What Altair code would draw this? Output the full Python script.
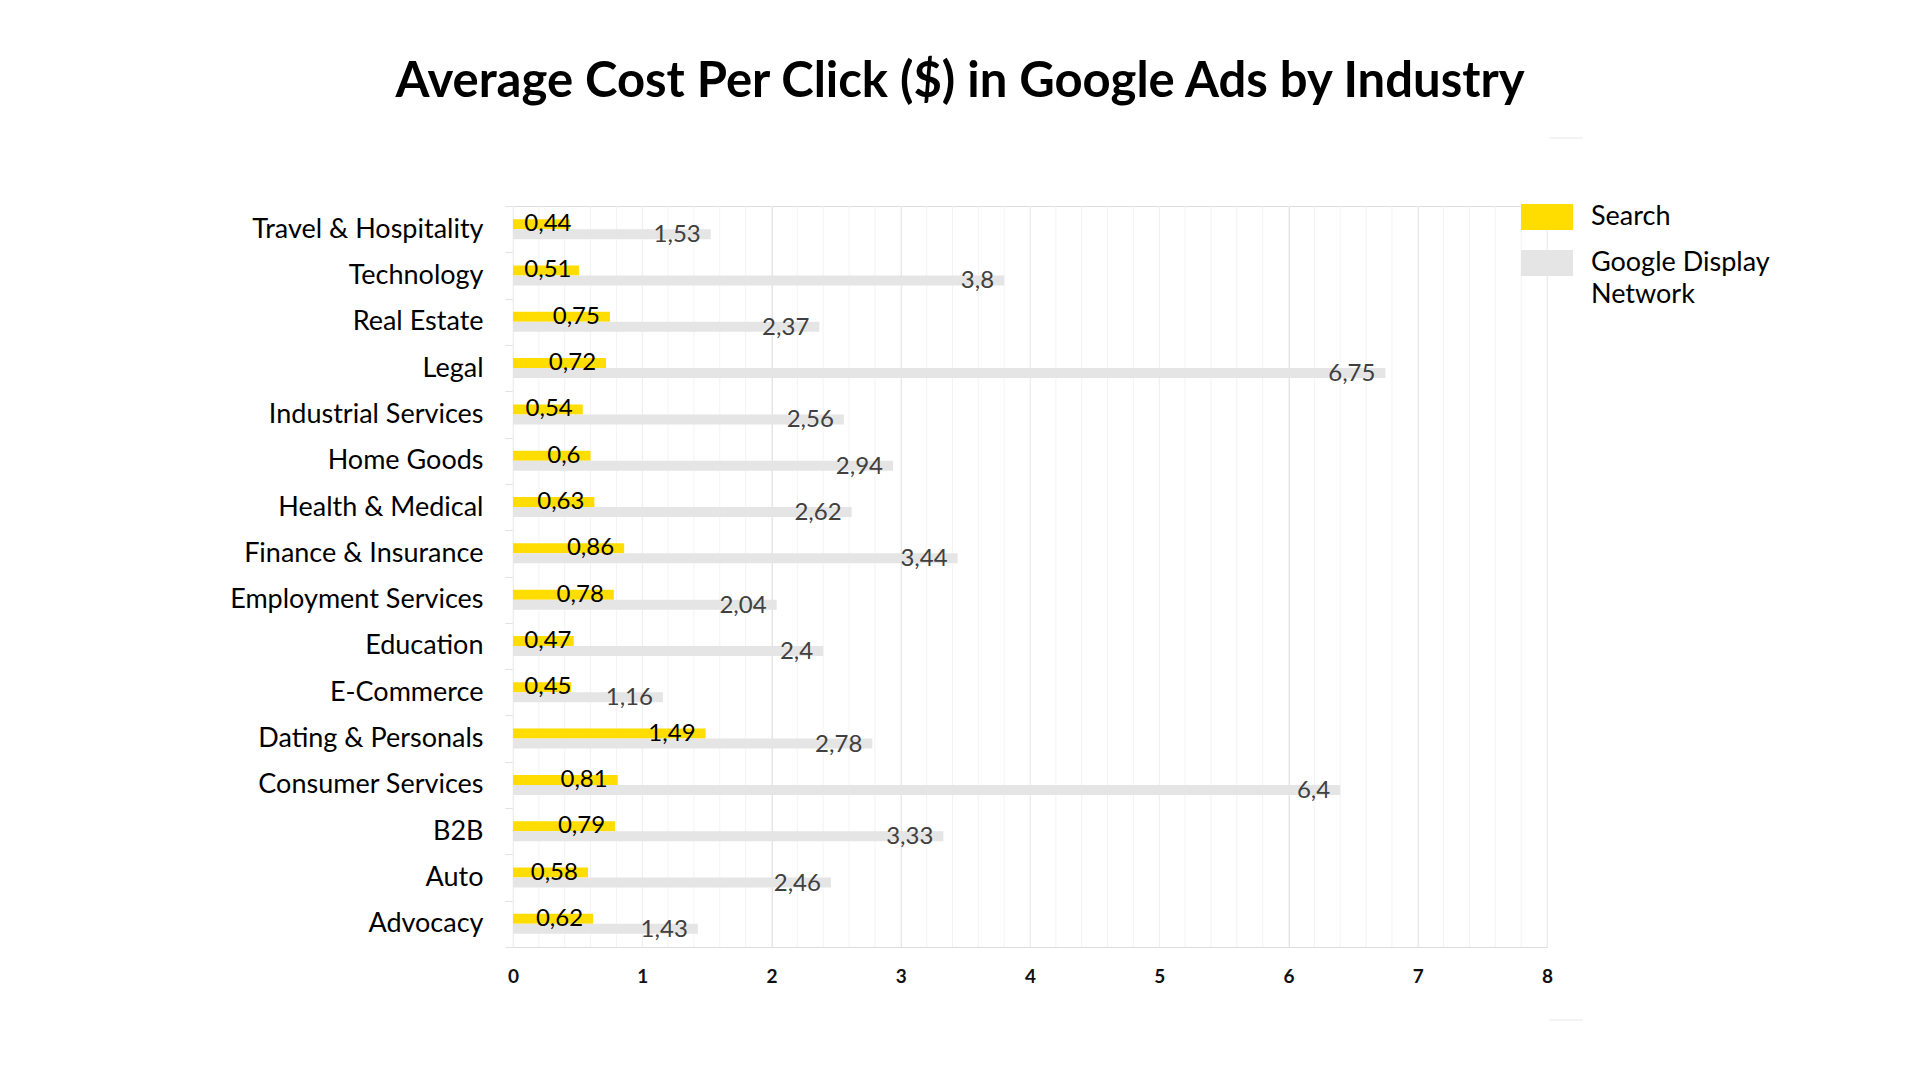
import altair as alt
import pandas as pd

industries = [
    "Travel & Hospitality", "Technology", "Real Estate", "Legal",
    "Industrial Services", "Home Goods", "Health & Medical",
    "Finance & Insurance", "Employment Services", "Education",
    "E-Commerce", "Dating & Personals", "Consumer Services", "B2B",
    "Auto", "Advocacy",
]
search_cpc = [0.44, 0.51, 0.75, 0.72, 0.54, 0.60, 0.63, 0.86, 0.78, 0.47,
              0.45, 1.49, 0.81, 0.79, 0.58, 0.62]
display_cpc = [1.53, 3.80, 2.37, 6.75, 2.56, 2.94, 2.62, 3.44, 2.04, 2.40,
               1.16, 2.78, 6.40, 3.33, 2.46, 1.43]
series_names = ["Search", "Google Display Network"]
series_colors = ["#FFDD00", "#E6E5E6"]
x_labels = [0, 1, 2, 3, 4, 5, 6, 7, 8]
minor_grid = [round(0.2 * i, 1) for i in range(41)]

rows = []
for ind, s, d in zip(industries, search_cpc, display_cpc):
    rows.append({"industry": ind, "series": series_names[0], "value": s})
    rows.append({"industry": ind, "series": series_names[1], "value": d})
df = pd.DataFrame(rows)

FONT = "Lato"
x_scale = alt.Scale(domain=[0, 8], nice=False, zero=True)

y_enc = alt.Y(
    "industry:N", sort=industries, title=None,
    scale=alt.Scale(paddingInner=0, paddingOuter=0),
    axis=alt.Axis(
        labelFont=FONT, labelFontSize=27, labelColor="#000000",
        labelPadding=22, tickSize=8, tickBand="extent", tickColor="#E2E2E2",
        domainColor="#E8E8E8", grid=False, labelLimit=400,
    ),
)
x_axis = alt.Axis(
    values=x_labels, format="d",
    labelFont=FONT, labelFontSize=19, labelFontWeight="bold",
    labelColor="#111111", labelPadding=20, ticks=False, domain=False,
    labelOverlap=False, labelFlush=False,
    grid=True, gridColor="#E4E4E4",
)
x_enc = alt.X("value:Q", title=None, scale=x_scale, axis=x_axis)
color_enc = alt.Color(
    "series:N",
    scale=alt.Scale(domain=series_names, range=series_colors),
    legend=alt.Legend(
        title=None, orient="none", legendX=1008, legendY=-15,
        symbolType="M-1,-0.5H1V0.5H-1Z", symbolSize=2704,
        symbolStrokeWidth=0, labelFont=FONT, labelFontSize=27,
        labelColor="#000000", labelOffset=18, rowPadding=7, padding=0,
        labelLimit=400, labelBaseline="middle",
        labelExpr="datum.label == 'Google Display Network' ? ['Google Display', 'Network'] : datum.label",
    ),
)

base = alt.Chart(df)
y_plain = alt.Y("industry:N", sort=industries)

minor_rules = alt.Chart(pd.DataFrame({"g": minor_grid})).mark_rule(
    color="#F3F3F3", strokeWidth=1
).encode(x=alt.X("g:Q", title=None, scale=x_scale, axis=x_axis))

search_bars = base.transform_filter(
    alt.datum.series == series_names[0]
).mark_bar(size=10, yOffset=-5).encode(x=x_enc, y=y_enc, color=color_enc)

display_bars = base.transform_filter(
    alt.datum.series == series_names[1]
).mark_bar(size=10, yOffset=5).encode(x=x_enc, y=y_enc, color=color_enc)

label_calc = "replace(toString(datum.value), '.', ',')"

search_text = base.transform_filter(
    alt.datum.series == series_names[0]
).transform_calculate(
    lbl=label_calc, xpos="max(datum.value, 0.53)"
).mark_text(
    align="right", baseline="middle", dx=-10, yOffset=-5,
    font=FONT, fontSize=24, color="#000000",
).encode(x=alt.X("xpos:Q", scale=x_scale), y=y_plain, text="lbl:N")

display_text = base.transform_filter(
    alt.datum.series == series_names[1]
).transform_calculate(lbl=label_calc).mark_text(
    align="right", baseline="middle", dx=-10, yOffset=6,
    font=FONT, fontSize=24, color="#404040",
).encode(x=alt.X("value:Q", scale=x_scale), y=y_plain, text="lbl:N")

deco_data = pd.DataFrame({"k": [0]})
deco_top = alt.Chart(deco_data).mark_rule(color="#E8E8E8", strokeWidth=1).encode(
    x=alt.value(1036), x2=alt.value(1070), y=alt.value(-68))
deco_bottom = alt.Chart(deco_data).mark_rule(color="#E8E8E8", strokeWidth=1).encode(
    x=alt.value(1036), x2=alt.value(1070), y=alt.value(814))

chart = alt.layer(
    minor_rules, search_bars, display_bars, search_text, display_text,
    deco_top, deco_bottom,
).properties(
    width=1034, height=741,
    autosize=alt.AutoSizeParams(type="none"),
    padding={"left": 505, "top": 198, "right": 365, "bottom": 110},
    title=alt.TitleParams(
        "Average Cost Per Click ($) in Google Ads by Industry",
        font=FONT, fontSize=49, fontWeight="bold", color="#000000",
        anchor="middle", frame="group", dx=-70, offset=31,
    ),
).configure_view(stroke=None).configure(
    background="#FFFFFF",
    style={"guide-label": {"lineHeight": 32}},
)

chart.save("out.html", embed_options={"renderer": "svg", "actions": False})
